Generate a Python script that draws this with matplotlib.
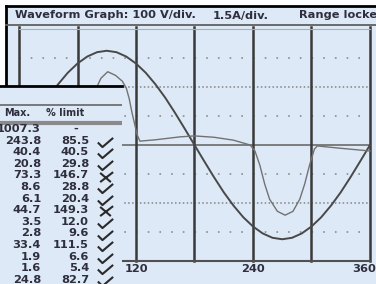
import numpy as np
import matplotlib
matplotlib.use('Agg')
import matplotlib.pyplot as plt
from matplotlib.lines import Line2D
from matplotlib.path import Path
import matplotlib.transforms as mtransforms

# waveform data
v_deg = np.arange(0, 361, 10)
volts = [0, 56, 111, 163, 209, 249, 281, 305, 320, 325, 320, 305, 281, 249, 209, 163, 111, 56,
         0, -56, -111, -163, -209, -249, -281, -305, -320, -325, -320, -305, -281, -249, -209, -163, -111, -56, 0]

i_deg = [0, 20, 45, 58, 63, 68, 73, 78, 84, 91, 99, 106, 110, 113, 116, 119, 121, 124,
         140, 150, 165, 180, 200, 220, 237, 242, 247, 252, 257, 265, 273, 281, 288, 293,
         298, 303, 306, 330, 360]
amps = [-0.31, -0.2, -0.08, 0.0, 0.3, 1.0, 2.0, 2.8, 3.45, 3.79, 3.6, 3.3, 2.95, 2.4, 1.65, 1.0, 0.55, 0.2,
        0.27, 0.33, 0.42, 0.47, 0.4, 0.25, 0.0, -0.31, -1.04, -2.02, -2.80, -3.43, -3.63, -3.43, -2.80, -2.02,
        -1.04, -0.21, -0.05, -0.17, -0.31]

v_per_div = 100
a_per_div = 1.5
xtick_vals = [120, 240, 360]

# harmonic table
max_vals = ['1007.3', '243.8', '40.4', '20.8', '73.3', '8.6', '6.1', '44.7', '3.5', '2.8', '33.4', '1.9', '1.6', '24.8']
pct_vals = ['-', '85.5', '40.5', '29.8', '146.7', '28.8', '20.4', '149.3', '12.0', '9.6', '111.5', '6.6', '5.4', '82.7']
status = ['', 'ok', 'ok', 'ok', 'bad', 'ok', 'ok', 'bad', 'ok', 'ok', 'ok', 'ok', 'ok', 'ok']

BG = '#dde9f6'
TXT = '#2e2e3c'
W, H = 376, 284
def fx(p): return p / W
def fy(p): return 1 - p / H

plt.rcParams['lines.scale_dashes'] = False
fig = plt.figure(figsize=(3.76, 2.84), dpi=100)
fig.patch.set_facecolor('white')

#%% frame + title bar
fr = fig.add_axes([fx(6), 0, 1 - fx(6), fy(6)], zorder=0)
fr.set_facecolor(BG)
fr.set_xticks([]); fr.set_yticks([])
for s in ['right', 'bottom']:
    fr.spines[s].set_visible(False)
for s in ['top', 'left']:
    fr.spines[s].set_color('black'); fr.spines[s].set_linewidth(2)
fig.add_artist(Line2D([fx(6), 1], [fy(24.5), fy(24.5)], transform=fig.transFigure, color='#606060', lw=1.3))

fkw = dict(fontsize=8.2, fontweight='bold', color=TXT, va='center')
fig.text(fx(15), fy(15.5), 'Waveform Graph: 100 V/div.', **fkw)
fig.text(fx(213), fy(15.5), '1.5A/div.', **fkw)
fig.text(fx(299), fy(15.5), 'Range locked', **fkw)

#%% waveform grid
ax = fig.add_axes([fx(19), fy(261), 351 / W, 232 / H], zorder=2)
ax.set_facecolor('none')
ax.set_xlim(0, 360)
ax.set_ylim(-4, 4)
for s in ['left', 'right']:
    ax.spines[s].set_visible(False)
ax.spines['bottom'].set_color('#505050'); ax.spines['bottom'].set_linewidth(1.5)
ax.spines['top'].set_color('#a8b0b8'); ax.spines['top'].set_linewidth(0.8)

cell = 351 / 6 * 0.72  # one division in points
for yv in [-3, -1, 1, 3]:
    ax.axhline(yv, color='#8c8c8c', lw=1.2, ls=(0, (1.2, cell / 5 - 1.2)))
for yv in [-2, 2]:
    ax.axhline(yv, color='#8c8c8c', lw=1.2, ls=(0, (1.1, cell / 15 - 1.1)))
ax.axhline(0, color='#6a6a6a', lw=1.2)
for xv in range(0, 361, 60):
    ax.axvline(xv, ymin=0, ymax=1.01, color='#3a3a3a', lw=1.8, clip_on=False)

ax.plot(v_deg, np.array(volts) / v_per_div, color='#484848', lw=1.4, clip_on=False)
ax.plot(i_deg, np.array(amps) / a_per_div, color='#727272', lw=1.0, clip_on=False)

ax.set_yticks([])
ax.set_xticks(xtick_vals)
ax.set_xticklabels([str(v) for v in xtick_vals], fontsize=8.2, fontweight='bold', color=TXT)
ax.tick_params(axis='x', length=0, pad=2.0)
lab = ax.get_xticklabels()[-1]
lab.set_transform(lab.get_transform() + mtransforms.ScaledTranslation(-6 / 100, 0, fig.dpi_scale_trans))

#%% harmonics table overlay
tb = fig.add_axes([0, 0, fx(122), fy(86)], zorder=5)
tb.set_facecolor(BG)
tb.set_xlim(0, 122)
tb.set_ylim(13.36, -3.71)
tb.set_xticks([]); tb.set_yticks([])
for s in ['left', 'right', 'bottom']:
    tb.spines[s].set_visible(False)
tb.spines['top'].set_color('black'); tb.spines['top'].set_linewidth(2)

tb.axhline(-2.07, color='#707070', lw=1.3)
tb.axhline(-0.52, color='#8a8a8a', lw=3)
tkw = dict(fontsize=8.2, fontweight='bold', color=TXT, va='center')
hkw = dict(tkw, fontsize=7.0)
tb.text(4, -1.38, 'Max.', ha='left', **hkw)
tb.text(46, -1.38, '% limit', ha='left', **hkw)
for r in range(len(max_vals)):
    tb.text(41, r, max_vals[r], ha='right', **tkw)
    if pct_vals[r] == '-':
        tb.text(76, r, pct_vals[r], ha='center', **tkw)
    else:
        tb.text(89, r, pct_vals[r], ha='right', **tkw)

# check / cross marks
check = Path([(-0.5, 0.0), (-0.2, -0.3), (0.5, 0.3)], [Path.MOVETO, Path.LINETO, Path.LINETO])
cross = Path([(-0.35, 0.3), (0.35, -0.3), (-0.35, -0.3), (0.5, 0.35)],
             [Path.MOVETO, Path.LINETO, Path.MOVETO, Path.LINETO])
rows = np.arange(len(status))
ok_rows = [r for r in rows if status[r] == 'ok']
bad_rows = [r for r in rows if status[r] == 'bad']
tb.plot([105] * len(ok_rows), np.array(ok_rows) + 0.1, ls='none', marker=check, ms=11,
        mec='#2a2a2a', mew=1.5, fillstyle='none', clip_on=False)
tb.plot([105] * len(bad_rows), np.array(bad_rows) + 0.1, ls='none', marker=cross, ms=11,
        mec='#2a2a2a', mew=1.5, fillstyle='none', clip_on=False)

fig.savefig('out.png', dpi=100, facecolor=fig.get_facecolor())
